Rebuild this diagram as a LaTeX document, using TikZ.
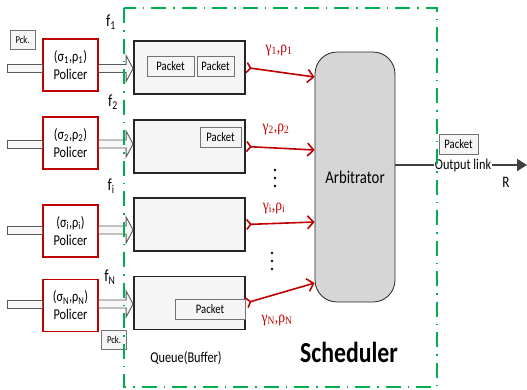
\documentclass[tikz,border=0pt]{standalone}
\usepackage{fontspec}
\setmainfont[FakeStretch=0.82]{Carlito}
\newfontfamily\grk[FakeStretch=0.85]{Liberation Serif}
\usetikzlibrary{arrows.meta}

\definecolor{polred}{HTML}{C00000}
\definecolor{schedgreen}{HTML}{00B050}

\tikzset{
    policer/.style={draw=polred, line width=1.8pt, fill=white, minimum width=55pt,
        minimum height=52pt, inner sep=0pt, align=center, font=\fontsize{15}{18}\selectfont},
    queue/.style={draw=black!85, line width=1.8pt, fill=black!4, minimum width=111pt,
        minimum height=53pt, inner sep=0pt},
    packet/.style={draw=black!55, line width=0.8pt, fill=black!4, minimum height=20pt,
        inner sep=0pt, font=\fontsize{13}{15}\selectfont},
    pck/.style={packet, minimum width=25pt, minimum height=19pt, font=\fontsize{10.5}{12}\selectfont},
    feed/.style={draw=black!65, line width=0.9pt, fill=black!3},
    rate/.style={draw=polred, line width=1.6pt,
        {Straight Barb[reversed,length=4pt,width=10pt]}-{Straight Barb[length=6pt,width=13pt]}},
    ratelabel/.style={text=polred, font=\grk\fontsize{16}{18}\selectfont},
    flowlabel/.style={font=\fontsize{17}{19}\selectfont},
    outlink/.style={draw=black!75, line width=2pt, -{Triangle[length=10pt,width=12pt]}},
    schedframe/.style={draw=schedgreen, line width=2.2pt,
        dash pattern=on 15pt off 7pt on 1.5pt off 7pt},
}

\begin{document}
\begin{tikzpicture}[x=1pt,y=-1pt]
    \useasboundingbox (0,0) rectangle (527,389);

    % scheduler core
    \node[draw=black!85, line width=0.8pt, fill=black!16, rounded corners=22pt,
        minimum width=80pt, minimum height=250pt, font=\fontsize{18}{20}\selectfont]
        (arb) at (355,177) {Arbitrator};

    % flows: policer -> queue -> arbitrator
    \foreach \n/\py/\qy/\ay/\ey in {1/64.7/67.5/68.5/77, 2/143/146.5/144/150,
                                    i/231/224.5/230/222, N/305.5/303/304/283} {
        \node[policer] (p\n) at (70.5,\py) {(σ\textsubscript{\n},ρ\textsubscript{\n})\\Policer};
        \node[queue] (q\n) at (189.5,\qy) {};
        \coordinate (in\n) at (7,\ay);
        \coordinate (a\n) at (p\n.east |- in\n);
        \coordinate (b\n) at (q\n.west |- in\n);
        \draw[feed] ([yshift=4pt]in\n) rectangle ([yshift=-4pt]p\n.west |- in\n);
        \draw[feed] ([yshift=4pt]a\n) -- ([xshift=-7pt,yshift=4pt]b\n)
            -- ([xshift=-7pt,yshift=13pt]b\n) -- (b\n) -- ([xshift=-7pt,yshift=-13pt]b\n)
            -- ([xshift=-7pt,yshift=-4pt]b\n) -- ([yshift=-4pt]a\n);
        \draw[rate] (q\n.east) -- (arb.west |- 0,\ey);
    }

    % packets in the queues
    \node[packet, minimum width=47pt] (pk1a) at (170.5,66) {Packet};
    \node[packet, minimum width=37pt] (pk1b) at (215.5,66) {Packet};
    \node[packet, minimum width=41pt] (pk2) at (220.5,137) {Packet};
    \node[packet, minimum width=70pt] (pkN) at (210,309) {Packet};
    \node[pck] (pckin) at (22.5,40) {Pck.};
    \node[pck] (pckout) at (114,340) {Pck.};

    % labels
    \node[flowlabel] (f1) at (111,22) {f\textsubscript{1}};
    \node[flowlabel] (f2) at (113,102) {f\textsubscript{2}};
    \node[flowlabel] (fi) at (111,186) {f\textsubscript{i}};
    \node[flowlabel] (fN) at (110,277) {f\textsubscript{N}};
    \node[ratelabel] (r1) at (279,50) {γ\textsubscript{1},ρ\textsubscript{1}};
    \node[ratelabel] (r2) at (276,129) {γ\textsubscript{2},ρ\textsubscript{2}};
    \node[ratelabel] (ri) at (274,208) {γ\textsubscript{i},ρ\textsubscript{i}};
    \node[ratelabel] (rN) at (277,320) {γ\textsubscript{N},ρ\textsubscript{N}};
    \foreach \k in {0,1,2} {
        \fill (275,170+8*\k) circle (1.3pt);
        \fill (272,253+8*\k) circle (1.3pt);
    }

    % output side
    \coordinate (out) at (527,165);
    \draw[outlink] (arb.east |- out) -- (out);
    \node[fill=white, inner sep=0.5pt, font=\fontsize{15}{17}\selectfont] (olink) at (463,165) {Output link};
    \node[packet, minimum width=39pt] (pkout) at (458.5,144) {Packet};
    \node[font=\fontsize{16}{18}\selectfont] (rate) at (506,182) {R};

    \node[font=\fontsize{15}{17}\selectfont] (qlabel) at (186,358) {Queue(Buffer)};
    \node[font=\bfseries\fontsize{29}{32}\selectfont] (sched) at (349,352) {Scheduler};

    \draw[schedframe] (124,8) rectangle (437,387);
\end{tikzpicture}
\end{document}
